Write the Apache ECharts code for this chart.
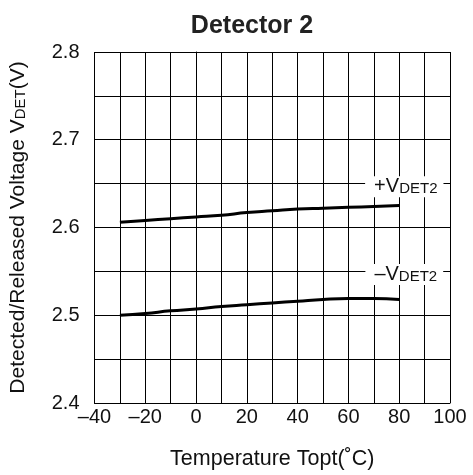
<!DOCTYPE html>
<html><head><meta charset="utf-8">
<script src="https://cdn.jsdelivr.net/npm/echarts@6/dist/echarts.min.js"></script>
<style>html,body{margin:0;padding:0;background:#fff}#c{width:473px;height:475px}</style>
</head><body><div id="c"></div>
<script>
var temps = [-30,-20,-10,0,10,20,30,40,50,60,70,80];
var plusV = [2.606,2.608,2.610,2.612,2.614,2.617,2.619,2.621,2.622,2.623,2.624,2.625];
var minusV = [2.500,2.502,2.505,2.507,2.510,2.512,2.514,2.516,2.518,2.519,2.519,2.518];
var xTicks = [-40,-20,0,20,40,60,80,100];
var yTicks = [2.4,2.5,2.6,2.7,2.8];
var seriesLabels = [
  {pre:'+V', sub:'DET2', x:82, y:2.65},
  {pre:'\u2013V', sub:'DET2', x:82, y:2.55}
];

var F = 'Liberation Sans';
function pairs(xs, ys){ return xs.map(function(x,i){return [x, ys[i]];}); }
var chart = echarts.init(document.getElementById('c'), null, {renderer:'canvas'});
chart.setOption({
  animation:false,
  title:{text:'Detector 2', left:247, textAlign:'center', top:9,
    textStyle:{fontFamily:F,fontSize:25,fontWeight:'bold',color:'#222'}},
  grid:{left:93, right:23, top:52, bottom:72, containLabel:false},
  xAxis:{type:'value', min:-40, max:100, interval:10,
    name:'Temperature Topt(\u02DAC)', nameLocation:'middle', nameGap:45,
    nameTextStyle:{fontFamily:F,fontSize:21.5,color:'#111'},
    axisLine:{show:true,lineStyle:{color:'#000',width:1}},
    axisTick:{show:false},
    splitLine:{show:true,lineStyle:{color:'#000',width:1}},
    axisLabel:{fontFamily:F,fontSize:20,color:'#111',margin:4,
      formatter:function(v){ return xTicks.indexOf(v)>=0 ? (v<0?'\u2013'+(-v):String(v)) : ''; }}
  },
  yAxis:{type:'value', min:2.4, max:2.8, interval:0.05,
    name:'{a|Detected/Released Voltage V}{b|DET}{a|(V)}', nameLocation:'middle', nameGap:65,
    nameTextStyle:{rich:{a:{fontFamily:F,fontSize:21,color:'#111',lineHeight:22},b:{fontFamily:F,fontSize:15,color:'#111',lineHeight:22,padding:[5,0,0,0]}}},
    axisLine:{show:true,lineStyle:{color:'#000',width:1}},
    axisTick:{show:false},
    splitLine:{show:true,lineStyle:{color:'#000',width:1}},
    axisLabel:{fontFamily:F,fontSize:20,color:'#111',margin:15,
      formatter:function(v){ for(var i=0;i<yTicks.length;i++){ if(Math.abs(yTicks[i]-v)<1e-6) return yTicks[i].toFixed(1);} return ''; }}
  },
  series:[
    {type:'line', data:pairs(temps,plusV), smooth:true, symbol:'none',
      lineStyle:{color:'#000',width:3}},
    {type:'line', data:pairs(temps,minusV), smooth:true, symbol:'none',
      lineStyle:{color:'#000',width:3}}
  ]
});
var g = seriesLabels.map(function(o){
  var p = chart.convertToPixel({gridIndex:0}, [o.x, o.y]);
  return {type:'text', x:p[0], y:p[1] + 3, z:100,
    style:{text:o.pre+'{b|'+o.sub+'}', align:'center', verticalAlign:'middle',
      fontFamily:F, fontSize:20, fill:'#111', lineHeight:21,
      backgroundColor:'#fff', padding:[0,6,0,9],
      rich:{b:{fontFamily:F,fontSize:15,fill:'#111',lineHeight:21,padding:[4,0,0,0]}}}};
});
chart.setOption({graphic:g});
</script></body></html>
